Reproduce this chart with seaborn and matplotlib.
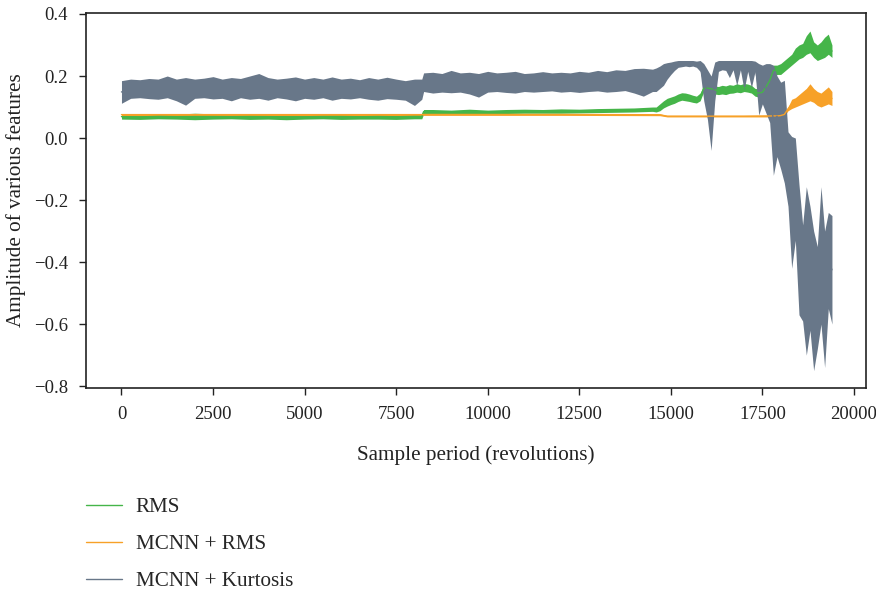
import pandas as pd
import seaborn as sns
import matplotlib.pyplot as plt

# Series names and colours
names = ['RMS', 'MCNN + RMS', 'MCNN + Kurtosis']
colors = ['#45b549', '#f7a128', '#687789']

# RMS: sample positions with lower / upper edge of the noisy band
rms_x = (list(range(0, 8001, 500)) + [8200, 8250]
         + list(range(8500, 14501, 500)) + list(range(14600, 19401, 100)))
rms_hi = [0.077, 0.076, 0.078, 0.077, 0.08, 0.078, 0.076, 0.079, 0.077, 0.078, 0.076, 0.077, 0.079, 0.076, 0.078, 0.077, 0.078,
          0.078, 0.092,
          0.092, 0.09, 0.093, 0.09, 0.092, 0.093, 0.092, 0.094, 0.093, 0.095, 0.096, 0.097, 0.1,
          0.1, 0.11, 0.12, 0.128, 0.132, 0.136, 0.142, 0.146, 0.145,
          0.142, 0.138, 0.135, 0.145, 0.17, 0.172, 0.17, 0.168, 0.166, 0.17,
          0.168, 0.172, 0.17, 0.175, 0.172, 0.176, 0.174, 0.17, 0.16, 0.158,
          0.16, 0.18, 0.2, 0.235, 0.235, 0.24, 0.25, 0.26, 0.27, 0.29,
          0.3, 0.305, 0.33, 0.345, 0.31, 0.3, 0.31, 0.325, 0.335, 0.3]
rms_lo = [0.061, 0.06, 0.062, 0.061, 0.059, 0.061, 0.062, 0.06, 0.061, 0.059, 0.061, 0.062, 0.06, 0.061, 0.061, 0.06, 0.062,
          0.062, 0.078,
          0.078, 0.077, 0.078, 0.077, 0.079, 0.08, 0.08, 0.08, 0.081, 0.082, 0.083, 0.084, 0.086,
          0.084, 0.088, 0.097, 0.103, 0.108, 0.112, 0.118, 0.122, 0.12,
          0.118, 0.115, 0.113, 0.12, 0.15, 0.15, 0.148, 0.142, 0.14, 0.142,
          0.14, 0.144, 0.145, 0.148, 0.146, 0.15, 0.148, 0.145, 0.135, 0.132,
          0.135, 0.15, 0.17, 0.2, 0.205, 0.205, 0.215, 0.225, 0.235, 0.245,
          0.255, 0.26, 0.27, 0.275, 0.26, 0.25, 0.255, 0.26, 0.27, 0.26]

# MCNN + RMS
mrms_x = [0, 4000, 8200, 8250, 12000, 14700, 14900, 16000, 17000, 17700] + list(range(17800, 19401, 100))
mrms_hi = [0.079, 0.079, 0.079, 0.079, 0.079, 0.078, 0.073, 0.073, 0.073, 0.074,
           0.075, 0.074, 0.076, 0.082, 0.1, 0.125, 0.13, 0.14, 0.15, 0.16, 0.175, 0.16, 0.15, 0.145, 0.155, 0.165, 0.15]
mrms_lo = [0.072, 0.072, 0.072, 0.073, 0.073, 0.072, 0.068, 0.068, 0.068, 0.068,
           0.068, 0.068, 0.069, 0.07, 0.088, 0.095, 0.1, 0.105, 0.11, 0.115, 0.12, 0.115, 0.105, 0.1, 0.105, 0.11, 0.105]

# MCNN + Kurtosis
kurt_x = (list(range(0, 8001, 250)) + [8200]
          + list(range(8250, 14251, 250)) + list(range(14500, 19401, 100)))
kurt_hi = [0.185, 0.19, 0.188, 0.192, 0.19, 0.2, 0.19, 0.195, 0.19, 0.193, 0.198, 0.19, 0.195, 0.192, 0.2, 0.208, 0.195,
           0.19, 0.193, 0.197, 0.19, 0.195, 0.19, 0.197, 0.19, 0.193, 0.188, 0.195, 0.19, 0.196, 0.19, 0.185, 0.19,
           0.19,
           0.21, 0.212, 0.208, 0.218, 0.21, 0.212, 0.208, 0.215, 0.21, 0.212, 0.215, 0.208, 0.21, 0.214, 0.21,
           0.212, 0.21, 0.215, 0.212, 0.218, 0.214, 0.22, 0.218, 0.224, 0.225,
           0.222, 0.226, 0.232, 0.24, 0.243, 0.245, 0.248, 0.25, 0.25, 0.25,
           0.25, 0.25, 0.248, 0.25, 0.24, 0.22, 0.2, 0.245, 0.25, 0.25,
           0.25, 0.25, 0.25, 0.25, 0.25, 0.25, 0.25, 0.25, 0.248, 0.24,
           0.235, 0.24, 0.24, 0.235, 0.2, 0.18, 0.186, 0.02, 0.005, 0.0,
           -0.15, -0.28, -0.157, -0.22, -0.3, -0.35, -0.157, -0.3, -0.24, -0.25]
kurt_lo = [0.112, 0.128, 0.13, 0.127, 0.125, 0.13, 0.12, 0.106, 0.128, 0.13, 0.126, 0.128, 0.12, 0.13, 0.125, 0.128, 0.122,
           0.13, 0.126, 0.12, 0.128, 0.125, 0.13, 0.122, 0.128, 0.126, 0.13, 0.125, 0.122, 0.127, 0.125, 0.122, 0.105,
           0.125,
           0.15, 0.145, 0.148, 0.146, 0.148, 0.142, 0.132, 0.148, 0.15, 0.147, 0.145, 0.15, 0.148, 0.15, 0.152,
           0.148, 0.15, 0.147, 0.15, 0.152, 0.148, 0.15, 0.153, 0.145, 0.135,
           0.15, 0.15, 0.16, 0.17, 0.19, 0.205, 0.218, 0.228, 0.23, 0.232,
           0.23, 0.232, 0.228, 0.215, 0.12, 0.06, -0.04, 0.12, 0.215, 0.22,
           0.218, 0.195, 0.22, 0.17, 0.22, 0.155, 0.215, 0.163, 0.215, 0.074,
           0.11, 0.08, 0.05, -0.12, -0.06, -0.1, -0.145, -0.22, -0.42, -0.33,
           -0.57, -0.59, -0.7, -0.62, -0.75, -0.68, -0.6, -0.74, -0.55, -0.6]

# long table: two rows per sample (band bottom and top)
frames = []
for name, xs, lo, hi in [(names[0], rms_x, rms_lo, rms_hi),
                         (names[1], mrms_x, mrms_lo, mrms_hi),
                         (names[2], kurt_x, kurt_lo, kurt_hi)]:
    frames.append(pd.DataFrame({'x': xs + xs, 'y': lo + hi, 'series': name}))
df = pd.concat(frames, ignore_index=True)

sns.set_theme(style="ticks")
plt.rcParams['font.family'] = ['Liberation Serif', 'DejaVu Serif']
plt.rcParams['font.size'] = 15

fig = plt.figure(figsize=(8.76, 5.93), dpi=100)
ax = fig.add_axes([0.0982, 0.3457, 0.8904, 0.6323])
sns.lineplot(data=df, x='x', y='y', hue='series', hue_order=names, palette=colors,
             errorbar=('pi', 100), err_kws={'alpha': 1, 'linewidth': 0},
             linewidth=1, ax=ax)

ax.set_xlim(-968, 20330)
ax.set_ylim(-0.806, 0.403)
ax.set_xticks(range(0, 20001, 2500))
ax.set_yticks([-0.8, -0.6, -0.4, -0.2, 0.0, 0.2, 0.4])
ax.tick_params(direction='out', length=5, width=1, colors='#222222', labelsize=13.5, pad=8)
for s in ax.spines.values():
    s.set_color('#222222')
    s.set_linewidth(1.2)
ax.set_xlabel('Sample period (revolutions)', fontsize=15.2, labelpad=16, color='#222222')
ax.set_ylabel('Amplitude of various features', fontsize=15.2, labelpad=6, color='#222222')

handles, labels = ax.get_legend_handles_labels()
ax.get_legend().remove()
fig.legend(handles, labels, loc='upper left', bbox_to_anchor=(0.098, 0.161),
           frameon=False, handlelength=1.7, handletextpad=0.67, labelspacing=0.82,
           borderpad=0, borderaxespad=0, fontsize=15.2)

fig.savefig('out.png', dpi=100)
